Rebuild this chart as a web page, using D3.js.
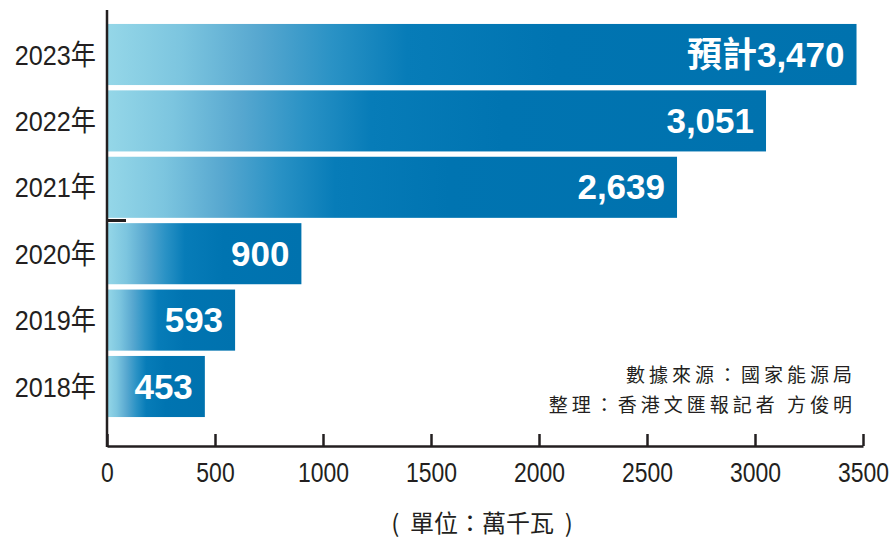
<!DOCTYPE html>
<html>
<head>
<meta charset="utf-8">
<script src="https://cdn.jsdelivr.net/npm/d3@7"></script>
<style>
  body { margin: 0; background: #fff; }
  svg { display: block; }
</style>
</head>
<body>
<div id="chart"></div>
<script>
const WIDTH = 896
const HEIGHT = 541

// data
const years = ['2023年', '2022年', '2021年', '2020年', '2019年', '2018年']
const values = [3470, 3051, 2639, 900, 593, 453]
const valueLabels = ['預計3,470', '3,051', '2,639', '900', '593', '453']
const xTicks = [0, 500, 1000, 1500, 2000, 2500, 3000, 3500]
const sourceLines = ['數據來源：國家能源局', '整理：香港文匯報記者 方俊明']
const unitLabel = '(  單位：萬千瓦  )'

const rows = years.map((year, i) => ({ year, value: values[i], label: valueLabels[i] }))

const AXIS_COLOR = '#231f20'
const SANS = '"Liberation Sans", "Noto Sans CJK TC", sans-serif'
const CJK = '"Noto Sans CJK TC", sans-serif'

const svg = d3.select('#chart')
  .append('svg')
  .attr('width', WIDTH)
  .attr('height', HEIGHT)

const x = d3.scaleLinear()
  .domain([0, 3500])
  .range([107, 863])

const y = d3.scaleBand()
  .domain(years)
  .range([21.3, 419.7])
  .paddingInner(0.08)
  .paddingOuter(0.04)

// gradient: light cyan on the left, deep blue from ~40% of each bar
const defs = svg.append('defs')
const grad = defs.append('linearGradient')
  .attr('id', 'barGrad')
  .attr('x1', 0).attr('x2', 1).attr('y1', 0).attr('y2', 0)
const stops = [
  [0, '#95d7e8'],
  [0.1, '#7cc5df'],
  [0.2, '#58a8d0'],
  [0.3, '#2a92c5'],
  [0.4, '#077cb8'],
  [0.6, '#0074b1'],
  [1, '#0072ae']
]
grad.selectAll('stop')
  .data(stops)
  .join('stop')
  .attr('offset', (d) => d[0])
  .attr('stop-color', (d) => d[1])

// bars
svg.selectAll('rect.bar')
  .data(rows)
  .join('rect')
  .attr('class', 'bar')
  .attr('x', x(0))
  .attr('y', (d) => y(d.year))
  .attr('width', (d) => x(d.value) - x(0))
  .attr('height', y.bandwidth())
  .attr('fill', 'url(#barGrad)')

// value labels inside the bars
svg.selectAll('text.val')
  .data(rows)
  .join('text')
  .attr('class', 'val')
  .attr('x', (d) => x(d.value) - 12)
  .attr('y', (d) => y(d.year) + y.bandwidth() / 2 + 12)
  .attr('text-anchor', 'end')
  .style('font-family', SANS)
  .style('font-weight', 'bold')
  .style('font-size', '35px')
  .style('fill', '#fff')
  .text((d) => d.label)

// x axis (ticks point up)
const xAxis = svg.append('g')
  .attr('transform', `translate(0,${446})`)
  .call(d3.axisBottom(x)
    .tickValues(xTicks)
    .tickFormat(d3.format('d'))
    .tickSizeInner(-12)
    .tickSizeOuter(0)
    .tickPadding(16))
xAxis.select('.domain').attr('stroke', AXIS_COLOR).attr('stroke-width', 2.5)
xAxis.selectAll('.tick line').attr('stroke', AXIS_COLOR).attr('stroke-width', 2.5)
xAxis.selectAll('.tick text')
  .attr('fill', AXIS_COLOR)
  .attr('transform', 'scale(0.82,1)')
  .style('font-family', SANS)
  .style('font-size', '28px')

// y axis line
svg.append('line')
  .attr('x1', x(0)).attr('x2', x(0))
  .attr('y1', 10).attr('y2', 447)
  .attr('stroke', AXIS_COLOR)
  .attr('stroke-width', 2.5)

// the short stray tick between 2021 and 2020
const strayY = (y('2021年') + y.bandwidth() + y('2020年')) / 2
svg.append('line')
  .attr('x1', x(0)).attr('x2', x(0) + 19)
  .attr('y1', strayY).attr('y2', strayY)
  .attr('stroke', AXIS_COLOR)
  .attr('stroke-width', 3)

// year labels
svg.selectAll('text.year')
  .data(rows)
  .join('text')
  .attr('class', 'year')
  .attr('transform', (d) => `translate(96,${y(d.year) + y.bandwidth() / 2 + 10}) scale(0.9,1)`)
  .attr('text-anchor', 'end')
  .style('font-family', SANS)
  .style('font-size', '28px')
  .style('fill', AXIS_COLOR)
  .text((d) => d.year)

// source note
svg.selectAll('text.src')
  .data(sourceLines)
  .join('text')
  .attr('class', 'src')
  .attr('x', 856)
  .attr('y', (d, i) => 382 + i * 30)
  .attr('text-anchor', 'end')
  .style('font-family', CJK)
  .style('font-size', '19px')
  .style('letter-spacing', '4px')
  .style('fill', AXIS_COLOR)
  .text((d) => d)

// unit label
svg.append('text')
  .attr('x', 482)
  .attr('y', 532)
  .attr('text-anchor', 'middle')
  .style('font-family', CJK)
  .style('font-size', '24px')
  .style('fill', AXIS_COLOR)
  .style('white-space', 'pre')
  .text(unitLabel)
</script>
</body>
</html>
